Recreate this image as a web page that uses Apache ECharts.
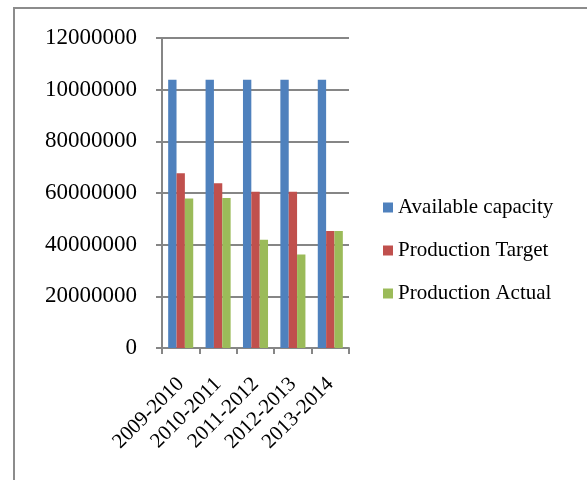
<!DOCTYPE html>
<html>
<head>
<meta charset="utf-8">
<script src="https://cdn.jsdelivr.net/npm/echarts@6/dist/echarts.min.js"></script>
<style>
  html, body { margin: 0; padding: 0; background: #fff; }
  #chart { width: 587px; height: 480px; }
</style>
</head>
<body>
<div id="chart"></div>
<script>
// categories and values
const years = ["2009-2010", "2010-2011", "2011-2012", "2012-2013", "2013-2014"];
const availableCapacity = [103800000, 103800000, 103800000, 103800000, 103800000];
const productionTarget = [67600000, 63800000, 60500000, 60500000, 45300000];
const productionActual = [57900000, 58100000, 41900000, 36200000, 45300000];
// tick labels as printed on the original (left axis, bottom to top)
const yTickLabels = ["0", "20000000", "40000000", "60000000", "80000000", "10000000", "12000000"];
const yStep = 20000000;

const serif = "Liberation Serif";
const axisGray = "#868686";

const chart = echarts.init(document.getElementById("chart"));

const option = {
  animation: false,
  // outer frame of the chart area
  graphic: [{
    type: "rect",
    shape: { x: 14, y: 8, width: 620, height: 520 },
    style: { fill: "none", stroke: "#8c8c8c", lineWidth: 2 },
    silent: true
  }],
  grid: {
    left: 162,
    right: 238,
    top: 38,
    bottom: 132
  },
  legend: {
    orient: "vertical",
    left: 378,
    top: 192,
    itemWidth: 10,
    itemHeight: 10,
    itemGap: 22,
    icon: "rect",
    textStyle: {
      fontFamily: serif,
      fontSize: 21,
      lineHeight: 21,
      color: "#000"
    },
    data: ["Available capacity", "Production Target", "Production Actual"]
  },
  xAxis: {
    type: "category",
    data: years,
    axisLine: { lineStyle: { color: axisGray, width: 2 } },
    axisTick: { show: true, length: 6, lineStyle: { color: axisGray, width: 2 } },
    axisLabel: {
      rotate: 45,
      margin: 33,
      fontFamily: serif,
      fontSize: 21,
      color: "#000",
      interval: 0
    }
  },
  yAxis: {
    type: "value",
    min: 0,
    max: 120000000,
    interval: yStep,
    axisLine: { show: true, lineStyle: { color: axisGray, width: 2 } },
    axisTick: { show: true, length: 6, lineStyle: { color: axisGray, width: 2 } },
    splitLine: { lineStyle: { color: axisGray, width: 2 } },
    axisLabel: {
      margin: 25,
      fontFamily: serif,
      fontSize: 23,
      color: "#000",
      formatter: function (v) {
        return yTickLabels[Math.round(v / yStep)];
      }
    }
  },
  series: [
    {
      name: "Available capacity",
      type: "bar",
      data: availableCapacity,
      itemStyle: { color: "#4F81BD" },
      barGap: "0%",
      barCategoryGap: "33%"
    },
    {
      name: "Production Target",
      type: "bar",
      data: productionTarget,
      itemStyle: { color: "#C0504D" }
    },
    {
      name: "Production Actual",
      type: "bar",
      data: productionActual,
      itemStyle: { color: "#9BBB59" }
    }
  ]
};

chart.setOption(option);
</script>
</body>
</html>
